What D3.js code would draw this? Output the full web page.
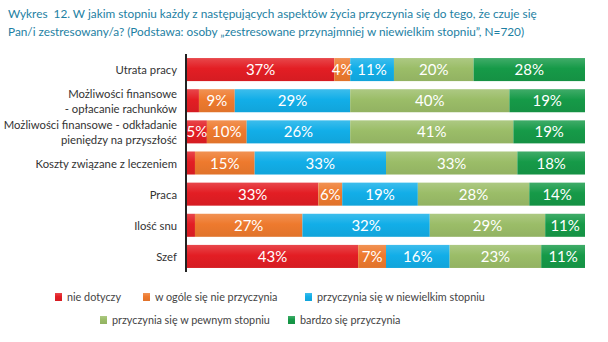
<!DOCTYPE html>
<html><head><meta charset="utf-8">
<script src="https://cdn.jsdelivr.net/npm/d3@7"></script>
<style>body{margin:0;background:#fff}svg{display:block}</style>
</head><body>
<script>
const categories = [
  ["Utrata pracy"],
  ["Możliwości finansowe", "- opłacanie rachunków"],
  ["Możliwości finansowe - odkładanie", "pieniędzy na przyszłość"],
  ["Koszty związane z leczeniem"],
  ["Praca"],
  ["Ilość snu"],
  ["Szef"]
];
const seriesNames = ["nie dotyczy", "w ogóle się nie przyczynia", "przyczynia się w niewielkim stopniu", "przyczynia się w pewnym stopniu", "bardzo się przyczynia"];
const nieDotyczy   = [37, 3, 5, 2, 33, 2, 43];
const wOgole       = [4, 9, 10, 15, 6, 27, 7];
const niewielkim   = [11, 29, 26, 33, 19, 32, 16];
const pewnym       = [20, 40, 41, 33, 28, 29, 23];
const bardzo       = [28, 19, 19, 18, 14, 11, 11];
const showLabel    = [[1,1,1,1,1],[0,1,1,1,1],[1,1,1,1,1],[0,1,1,1,1],[1,1,1,1,1],[0,1,1,1,1],[1,1,1,1,1]];
const colors = ["#e31e24", "#ee7a2e", "#12aee8", "#9bbd68", "#169a48"];
const title = ["Wykres\u00a0 12. W jakim stopniu każdy z następujących aspektów życia przyczynia się do tego, że czuje się",
               "Pan/i zestresowany/a? (Podstawa: osoby „zestresowane przynajmniej w niewielkim stopniu”, N=720)"];

const W = 608, H = 342;
const svg = d3.select("body").append("svg").attr("width", W).attr("height", H)
  .style("font-family", "Lato, 'Open Sans', sans-serif");

const defs = svg.append("defs");
colors.forEach((c, i) => {
  const g = defs.append("linearGradient").attr("id", "g" + i).attr("x1", 0).attr("y1", 0).attr("x2", 0).attr("y2", 1);
  g.append("stop").attr("offset", "0%").attr("stop-color", d3.interpolateRgb(c, "#fff")(0.18));
  g.append("stop").attr("offset", "45%").attr("stop-color", c);
  g.append("stop").attr("offset", "100%").attr("stop-color", d3.interpolateRgb(c, "#000")(0.06));
});

svg.selectAll("text.title").data(title).join("text")
  .attr("x", 8).attr("y", (d, i) => 18 + i * 18)
  .attr("fill", "#1d7fa3").attr("font-size", 11.8).text(d => d);

const x = d3.scaleLinear().domain([0, 100]).range([187, 585]);
const y = d3.scaleBand().domain(d3.range(categories.length)).range([54, 272]).paddingInner(0.26).paddingOuter(0.13);

const series = [nieDotyczy, wOgole, niewielkim, pewnym, bardzo];
const rows = categories.map((c, i) => {
  let acc = 0;
  return series.map((s, k) => { const d = {row: i, k, v: s[i], x0: acc, x1: acc + s[i], show: showLabel[i][k]}; acc += s[i]; return d; });
});

const g = svg.append("g");
rows.forEach(r => {
  g.selectAll(null).data(r).join("rect")
    .attr("x", d => x(d.x0)).attr("width", d => x(Math.min(d.x1, 100)) - x(d.x0))
    .attr("y", d => y(d.row)).attr("height", y.bandwidth())
    .attr("fill", d => `url(#g${d.k})`);
  g.selectAll(null).data(r.filter(d => d.show)).join("text")
    .attr("x", d => (x(d.x0) + x(Math.min(d.x1, 100))) / 2)
    .attr("y", d => y(d.row) + y.bandwidth() / 2 + 5.5)
    .attr("text-anchor", "middle").attr("fill", "#fff").attr("font-size", 15)
    .text(d => d.v + "%");
});

// axis line
svg.append("line").attr("x1", 186).attr("x2", 186).attr("y1", 54).attr("y2", 272)
  .attr("stroke", "#222").attr("stroke-width", 2);

// category labels
categories.forEach((lines, i) => {
  const cy = y(i) + y.bandwidth() / 2;
  const t = svg.append("text").attr("text-anchor", "end").attr("fill", "#333").attr("font-size", 11.3);
  lines.forEach((l, j) => {
    t.append("tspan").attr("x", 177)
      .attr("y", cy + 4.5 + (j - (lines.length - 1) / 2) * 15).text(l);
  });
});

// legend
const legendPos = [[55, 298], [143, 298], [305, 298], [100, 321], [288, 321]];
seriesNames.forEach((n, i) => {
  const [lx, ly] = legendPos[i];
  svg.append("rect").attr("x", lx).attr("y", ly - 5).attr("width", 7).attr("height", 8).attr("fill", `url(#g${i})`);
  svg.append("text").attr("x", lx + 12).attr("y", ly + 3).attr("font-size", 10.8).attr("fill", "#444").text(n);
});
</script>
</body></html>
